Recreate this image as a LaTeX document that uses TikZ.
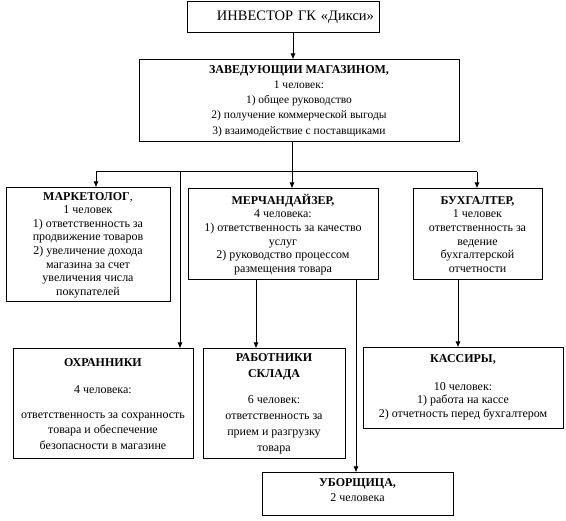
\documentclass[tikz,border=0pt]{standalone}
\usepackage{fontspec}
\setmainfont{Liberation Serif}
\usetikzlibrary{arrows.meta}
\begin{document}
\begin{tikzpicture}[x=1pt,y=-1pt,
  box/.style={draw, line width=1pt, align=center, inner sep=0pt, font=\fontsize{12}{13.7}\selectfont},
  arr/.style={line width=1pt, -{Latex[length=6pt,width=5pt]}},
  ln/.style={line width=1pt}]
\useasboundingbox[fill=white] (0,0) rectangle (566,521);

\node[box, minimum width=192, minimum height=31, text width=182, align=right, font=\fontsize{14.5}{16}\selectfont] (inv) at (283,17.5) {ИНВЕСТОР ГК «Дикси»};

\node[box, minimum width=320, minimum height=82, font=\fontsize{11.5}{15.25}\selectfont] (mgr) at (299,101)
 {{\fontsize{12}{15.25}\selectfont\textbf{ЗАВЕДУЮЩИИ МАГАЗИНОМ,}}\\1 человек:\\1) общее руководство\\2) получение коммерческой выгоды\\3) взаимодействие с поставщиками};

\node[box, minimum width=164, minimum height=114, font=\fontsize{12}{13.6}\selectfont] (mkt) at (88,245)
 {\textbf{МАРКЕТОЛОГ},\\1 человек\\1) ответственность за\\продвижение товаров\\2) увеличение дохода\\магазина за счет\\увеличения числа\\покупателей};

\node[box, minimum width=190, minimum height=91] (mer) at (283,234.5)
 {\textbf{МЕРЧАНДАЙЗЕР,}\\4 человека:\\1) ответственность за качество\\услуг\\2) руководство процессом\\размещения товара};

\node[box, minimum width=129, minimum height=91] (acc) at (477.5,234.5)
 {\textbf{БУХГАЛТЕР,}\\1 человек\\ответственность за\\ведение\\бухгалтерской\\отчетности};

\node[box, minimum width=180, minimum height=110, font=\fontsize{12}{15.5}\selectfont] (grd) at (103,404)
 {\textbf{ОХРАННИКИ}\\[11.5pt]4 человека:\\[9.5pt]ответственность за сохранность\\товара и обеспечение\\безопасности в магазине};

\node[box, minimum width=142, minimum height=110, font=\fontsize{12}{16}\selectfont] (wh) at (274,404)
 {\textbf{РАБОТНИКИ}\\\textbf{СКЛАДА}\\[10pt]6 человек:\\ответственность за\\прием и разгрузку\\товара};

\node[box, minimum width=200, minimum height=81, font=\fontsize{12}{13.5}\selectfont] (kas) at (463,388.5)
 {\textbf{КАССИРЫ,}\\[14.5pt]10 человек:\\1) работа на кассе\\2) отчетность перед бухгалтером\rule[-5pt]{0pt}{0pt}};

\node[box, minimum width=191, minimum height=43, font=\fontsize{12}{15}\selectfont] (cln) at (357.5,494.5)
 {\textbf{УБОРЩИЦА,}\\2 человека\rule[-8pt]{0pt}{0pt}};

\coordinate (xa) at (293,0);
\coordinate (jl) at (96,172);
\coordinate (jg) at (180,172);
\coordinate (jm) at (292,172);
\coordinate (jr) at (477,172);
\coordinate (xg) at (256,0);
\coordinate (xc) at (356,0);
\coordinate (xk) at (458,0);

\draw[arr] (inv.south -| xa) -- (mgr.north -| xa);
\draw[arr] (mgr.south -| jm) -- (mer.north -| jm);
\draw[ln] (jl) -- (jr);
\draw[arr] (jl) -- (mkt.north -| jl);
\draw[arr] (jr) -- (acc.north -| jr);
\draw[arr] (jg) -- (grd.north -| jg);
\draw[arr] (mer.south -| xg) -- (wh.north -| xg);
\draw[arr] (mer.south -| xc) -- (cln.north -| xc);
\draw[arr] (acc.south -| xk) -- (kas.north -| xk);
\end{tikzpicture}
\end{document}
